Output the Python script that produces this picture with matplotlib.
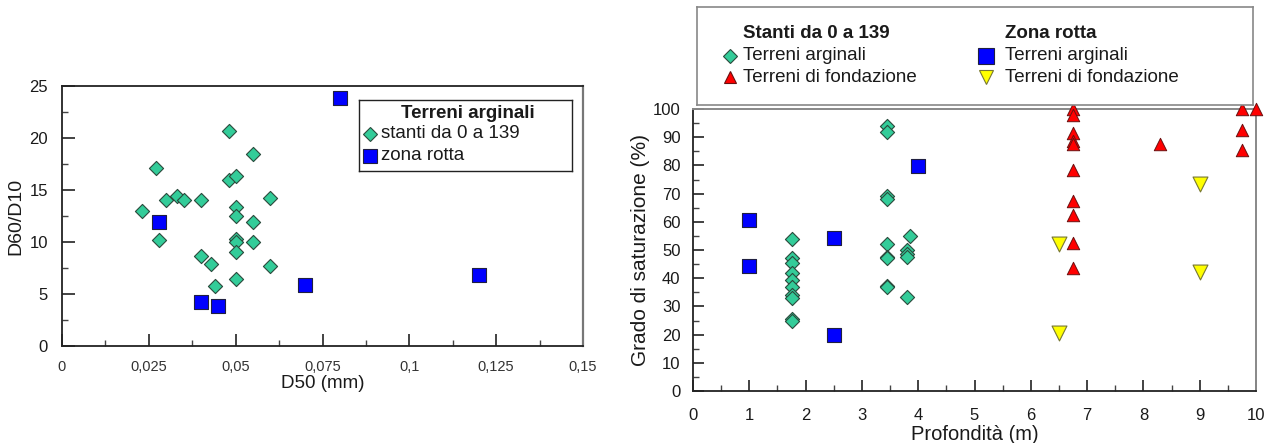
import matplotlib
matplotlib.use("Agg")
import matplotlib.pyplot as plt
from matplotlib.ticker import MultipleLocator, FuncFormatter

plt.rcParams['font.family'] = ['Liberation Sans', 'DejaVu Sans']

# --- Left panel: D60/D10 vs D50, embankment soils ---
stanti_d50 = [0.023, 0.027, 0.028, 0.030, 0.033, 0.035, 0.040, 0.040, 0.043, 0.044,
              0.048, 0.048, 0.050, 0.050, 0.050, 0.050, 0.050, 0.050, 0.050,
              0.055, 0.055, 0.055, 0.060, 0.060]
stanti_cu = [13.0, 17.1, 10.2, 14.0, 14.4, 14.0, 14.0, 8.7, 7.9, 5.8,
             20.7, 16.0, 16.3, 13.4, 12.5, 10.3, 10.0, 9.0, 6.4,
             18.5, 11.9, 10.0, 14.2, 7.7]
rotta_d50 = [0.028, 0.040, 0.045, 0.070, 0.080, 0.120]
rotta_cu = [11.9, 4.2, 3.8, 5.9, 23.8, 6.8]

# --- Right panel: degree of saturation vs depth ---
st_arg_depth = [1.75] * 10 + [3.45] * 9 + [3.8, 3.8, 3.8, 3.8, 3.85]
st_arg_sat = [54, 47, 45.5, 42, 39.5, 37, 34, 33, 25.5, 25,
              94, 92, 69, 68, 52, 47.5, 47, 37.2, 37,
              50, 48.5, 47.5, 33.3, 55]
st_fond_depth = [6.75] * 10 + [8.3, 9.75, 9.75, 9.75, 10.0]
st_fond_sat = [100, 98, 91.5, 88.5, 87.5, 78.5, 67.5, 62.5, 52.5, 43.5,
               87.5, 100, 92.5, 85.5, 100]
zr_arg_depth = [1.0, 1.0, 2.5, 2.5, 4.0]
zr_arg_sat = [60.5, 44.3, 54.4, 19.7, 79.8]
zr_fond_depth = [6.5, 6.5, 9.0, 9.0]
zr_fond_sat = [52, 20.5, 73.5, 42.2]

GREEN = '#33cc99'
BLUE = '#0000ff'
RED = '#ff0000'
YELLOW = '#ffff00'
EDGE_G = '#2a4a3c'
EDGE_B = '#202040'
EDGE_R = '#6a1010'
EDGE_Y = '#777733'
TXT = '#1a1a1a'

W, H = 1270, 443
fig = plt.figure(figsize=(W / 100, H / 100), dpi=100)


def px_axes(x0, y0, x1, y1):
    """Axes placed by pixel box (left, top, right, bottom)."""
    return fig.add_axes([x0 / W, 1 - y1 / H, (x1 - x0) / W, (y1 - y0) / H])


def key_box(ax, width, height):
    ax.set_xlim(0, width)
    ax.set_ylim(height, 0)
    ax.set_xticks([])
    ax.set_yticks([])
    ax.patch.set_facecolor('white')


# ---------------- left axes ----------------
ax1 = px_axes(62, 86, 583, 346)
ax1.scatter(stanti_d50, stanti_cu, marker='D', s=52, facecolor=GREEN,
            edgecolor=EDGE_G, linewidth=0.8, zorder=3, clip_on=False)
ax1.scatter(rotta_d50, rotta_cu, marker='s', s=105, facecolor=BLUE,
            edgecolor=EDGE_B, linewidth=0.8, zorder=4, clip_on=False)
ax1.set_xlim(0, 0.15)
ax1.set_ylim(0, 25)
ax1.xaxis.set_major_locator(MultipleLocator(0.025))
ax1.xaxis.set_minor_locator(MultipleLocator(0.0125))
ax1.yaxis.set_major_locator(MultipleLocator(5))
ax1.yaxis.set_minor_locator(MultipleLocator(2.5))


def comma_fmt(v, pos):
    if abs(v) < 1e-12:
        return '0'
    s = ('%.3f' % v).rstrip('0').rstrip('.')
    return s.replace('.', ',')


ax1.xaxis.set_major_formatter(FuncFormatter(comma_fmt))
ax1.tick_params(which='major', direction='in', length=9, width=1.2, colors='#222222')
ax1.tick_params(which='minor', direction='in', length=4, width=1.0, colors='#444444')
ax1.tick_params(axis='x', which='major', labelsize=10.5, pad=10, labelcolor='#333333')
ax1.tick_params(axis='y', which='major', labelsize=12, pad=10, labelcolor=TXT)
ax1.tick_params(top=False, right=False, which='both')
for side in ('left', 'bottom', 'top'):
    ax1.spines[side].set_color('#222222')
    ax1.spines[side].set_linewidth(1.3)
ax1.spines['right'].set_color('#777777')
ax1.spines['right'].set_linewidth(1.6)
ax1.set_xlabel('D50 (mm)', fontsize=13.5, color=TXT, labelpad=1)
ax1.set_ylabel('D60/D10', fontsize=14, color=TXT, labelpad=4)

# key for the left panel
k1 = px_axes(359, 100, 572, 171)
key_box(k1, 213, 71)
for sp in k1.spines.values():
    sp.set_color('#222222')
    sp.set_linewidth(1.0)
k1.text(109, 13, 'Terreni arginali', fontsize=13.5, fontweight='bold',
        ha='center', va='center', color=TXT)
k1.plot([11], [34], linestyle='', marker='D', markersize=7, markerfacecolor=GREEN,
        markeredgecolor=EDGE_G, markeredgewidth=0.8)
k1.text(22, 34, 'stanti da 0 a 139', fontsize=13.5, ha='left', va='center', color=TXT)
k1.plot([11], [56], linestyle='', marker='s', markersize=10, markerfacecolor=BLUE,
        markeredgecolor=EDGE_B, markeredgewidth=0.8)
k1.text(22, 55, 'zona rotta', fontsize=13.5, ha='left', va='center', color=TXT)

# ---------------- right axes ----------------
ax2 = px_axes(693, 109, 1256, 391)
ax2.scatter(st_arg_depth, st_arg_sat, marker='D', s=52, facecolor=GREEN,
            edgecolor=EDGE_G, linewidth=0.8, zorder=3, clip_on=False)
ax2.scatter(zr_arg_depth, zr_arg_sat, marker='s', s=105, facecolor=BLUE,
            edgecolor=EDGE_B, linewidth=0.8, zorder=4, clip_on=False)
ax2.scatter(st_fond_depth, st_fond_sat, marker='^', s=80, facecolor=RED,
            edgecolor=EDGE_R, linewidth=0.7, zorder=4, clip_on=False)
ax2.scatter(zr_fond_depth, zr_fond_sat, marker='v', s=115, facecolor=YELLOW,
            edgecolor=EDGE_Y, linewidth=0.8, zorder=4, clip_on=False)
ax2.set_xlim(0, 10)
ax2.set_ylim(0, 100)
ax2.xaxis.set_major_locator(MultipleLocator(1))
ax2.xaxis.set_minor_locator(MultipleLocator(0.5))
ax2.yaxis.set_major_locator(MultipleLocator(10))
ax2.yaxis.set_minor_locator(MultipleLocator(5))
ax2.tick_params(which='major', direction='in', length=8, width=1.2,
                labelsize=12, colors='#222222', labelcolor=TXT)
ax2.tick_params(axis='x', which='major', pad=12)
ax2.tick_params(axis='y', which='major', pad=9)
ax2.tick_params(which='minor', direction='in', length=4, width=1.0, colors='#444444')
ax2.tick_params(top=False, right=False, which='both')
for side in ('left', 'bottom'):
    ax2.spines[side].set_color('#222222')
    ax2.spines[side].set_linewidth(1.3)
for side in ('top', 'right'):
    ax2.spines[side].set_color('#888888')
    ax2.spines[side].set_linewidth(1.4)
ax2.set_xlabel('Profondità (m)', fontsize=14.5, color=TXT, labelpad=2)
ax2.set_ylabel('Grado di saturazione (%)', fontsize=15, color=TXT, labelpad=2)

# two-column key above the right panel
k2 = px_axes(697, 7, 1253, 105)
key_box(k2, 556, 98)
for sp in k2.spines.values():
    sp.set_color('#888888')
    sp.set_linewidth(1.2)
k2.text(46, 26, 'Stanti da 0 a 139', fontsize=13.5, fontweight='bold',
        va='center', ha='left', color=TXT)
k2.text(308, 26, 'Zona rotta', fontsize=13.5, fontweight='bold',
        va='center', ha='left', color=TXT)
rows = [49, 70]
entries = [
    (33, rows[0], 'D', 7, GREEN, EDGE_G, 'Terreni arginali', 46),
    (33, rows[1], '^', 9, RED, EDGE_R, 'Terreni di fondazione', 46),
    (289, rows[0], 's', 12, BLUE, EDGE_B, 'Terreni arginali', 308),
    (289, rows[1], 'v', 10.5, YELLOW, EDGE_Y, 'Terreni di fondazione', 308),
]
for mx, my, mk, ms, fc, ec, label, tx in entries:
    k2.plot([mx], [my], linestyle='', marker=mk, markersize=ms,
            markerfacecolor=fc, markeredgecolor=ec, markeredgewidth=0.8)
    k2.text(tx, my, label, fontsize=13.5, va='center', ha='left', color=TXT)

fig.savefig('out.png', dpi=100)
